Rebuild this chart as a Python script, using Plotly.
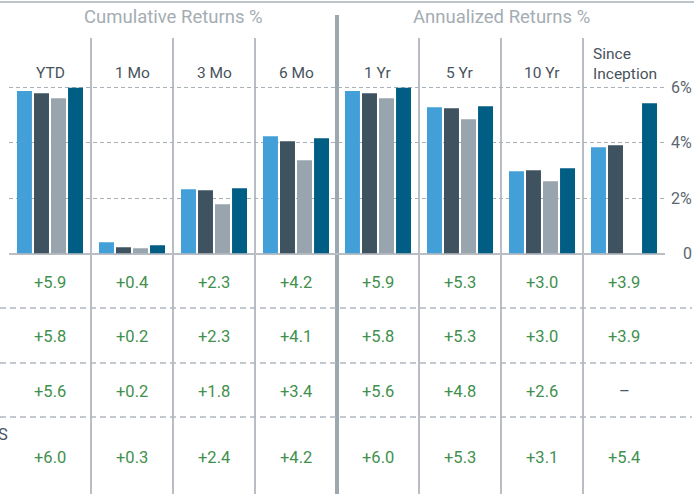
import plotly.graph_objects as go

# ---- data ----
periods = ["YTD", "1 Mo", "3 Mo", "6 Mo", "1 Yr", "5 Yr", "10 Yr", "Since<br>Inception"]
series_names = ["Series A", "Series B", "Series C", "Series D"]
bars_a = [5.87, 0.41, 2.32, 4.24, 5.87, 5.29, 2.97, 3.84]
bars_b = [5.79, 0.23, 2.29, 4.06, 5.79, 5.25, 3.01, 3.91]
bars_c = [5.61, 0.19, 1.78, 3.37, 5.61, 4.85, 2.61, None]
bars_d = [5.99, 0.30, 2.36, 4.17, 5.99, 5.32, 3.08, 5.43]
table_a = ["+5.9", "+0.4", "+2.3", "+4.2", "+5.9", "+5.3", "+3.0", "+3.9"]
table_b = ["+5.8", "+0.2", "+2.3", "+4.1", "+5.8", "+5.3", "+3.0", "+3.9"]
table_c = ["+5.6", "+0.2", "+1.8", "+3.4", "+5.6", "+4.8", "+2.6", "–"]
table_d = ["+6.0", "+0.3", "+2.4", "+4.2", "+6.0", "+5.3", "+3.1", "+5.4"]
group_titles = ["Cumulative Returns %", "Annualized Returns %"]
y_ticks = [0, 2, 4, 6]
y_tick_text = ["0", "2%", "4%", "6%"]

colors = ["#439fd8", "#3f5260", "#98a5ae", "#005d84"]
FONT = "Roboto"
WT = 400
W, H = 694, 494

def py(p):  # pixel-from-top -> paper y
    return 1 - p / H

fig = go.Figure()
xs = list(range(len(periods)))
for name, vals, col in zip(series_names, [bars_a, bars_b, bars_c, bars_d], colors):
    fig.add_trace(go.Bar(x=xs, y=vals, name=name, marker=dict(color=col, line=dict(width=0)),
                         hoverinfo="skip"))

shapes = []
# top rule
shapes.append(dict(type="line", xref="paper", yref="paper", x0=0, x1=1, y0=py(2), y1=py(2),
                   line=dict(color="#bcc5cb", width=2), layer="below"))
# column separators
for k in range(len(periods) - 1):
    if k == 3:
        shapes.append(dict(type="line", xref="x", yref="paper", x0=k + 0.5, x1=k + 0.5,
                           y0=0, y1=py(15), line=dict(color="#9ca8b0", width=4), layer="below"))
    else:
        shapes.append(dict(type="line", xref="x", yref="paper", x0=k + 0.5, x1=k + 0.5,
                           y0=0, y1=py(38), line=dict(color="#b8bec4", width=2), layer="below"))
# table row dashed rules
for p in [308, 363, 417]:
    shapes.append(dict(type="line", xref="paper", yref="paper", x0=0, x1=692 / W, y0=py(p), y1=py(p),
                       line=dict(color="#b0b8be", width=1.5, dash="6px,4px"), layer="below"))

ann = []
# group titles
for t, xc in zip(group_titles, [1.5, 5.5]):
    ann.append(dict(text=t, x=xc, xref="x", y=py(17), yref="paper", showarrow=False,
                    xanchor="center", yanchor="middle",
                    font=dict(family=FONT, size=18.5, color="#a4adb3", weight=WT)))
# column labels
for i, lab in enumerate(periods):
    if "<br>" in lab:
        ann.append(dict(text=lab, x=i, xref="x", xshift=-33, y=py(64), yref="paper", showarrow=False,
                        xanchor="left", yanchor="middle", align="left",
                        font=dict(family=FONT, size=15.5, color="#48535c", weight=WT)))
    else:
        ann.append(dict(text=lab, x=i, xref="x", y=py(73), yref="paper", showarrow=False,
                        xanchor="center", yanchor="middle",
                        font=dict(family=FONT, size=15.5, color="#48535c", weight=WT)))
# table values
for row, p in zip([table_a, table_b, table_c, table_d], [282, 336, 391, 457]):
    for i, v in enumerate(row):
        col = "#4a5560" if v == "–" else "#41904d"
        ann.append(dict(text=v, x=i, xref="x", y=py(p), yref="paper", showarrow=False,
                        xanchor="center", yanchor="middle",
                        font=dict(family=FONT, size=16.5, color=col, weight=WT)))
# row label fragment (cropped in the reference as well)
ann.append(dict(text="S", x=10 / W, xref="paper", y=py(434), yref="paper", showarrow=False,
                xanchor="right", yanchor="middle",
                font=dict(family=FONT, size=16.5, color="#48535c", weight=WT)))
# y tick labels on right
for v, t in zip(y_ticks, y_tick_text):
    ann.append(dict(text=t, x=694 / W, xref="paper", y=v, yref="y", showarrow=False,
                    xanchor="right", yanchor="middle",
                    font=dict(family=FONT, size=16, color="#5a6670", weight=WT)))

fig.update_layout(
    width=W, height=H, margin=dict(l=0, r=0, t=0, b=0),
    paper_bgcolor="white", plot_bgcolor="white",
    showlegend=False, barmode="group", bargap=0.17, bargroupgap=0.12,
    xaxis=dict(domain=[9 / W, 665 / W], range=[-0.5, 7.5], showticklabels=False,
               showgrid=False, zeroline=False, showline=False, fixedrange=True),
    yaxis=dict(domain=[py(253.5), py(253.5 - 6.3 * 166 / 6)], range=[0, 6.3],
               tickvals=[2, 4, 6], showticklabels=False, showgrid=True,
               gridcolor="#a9b1b8", gridwidth=1, griddash="4px,3px",
               zeroline=True, zerolinecolor="#b8bec4", zerolinewidth=2, showline=False,
               fixedrange=True),
    shapes=shapes, annotations=ann,
)

fig.write_html("out.html", config={"displayModeBar": False},
               post_script="document.body.style.margin='0';document.body.style.padding='0';")
